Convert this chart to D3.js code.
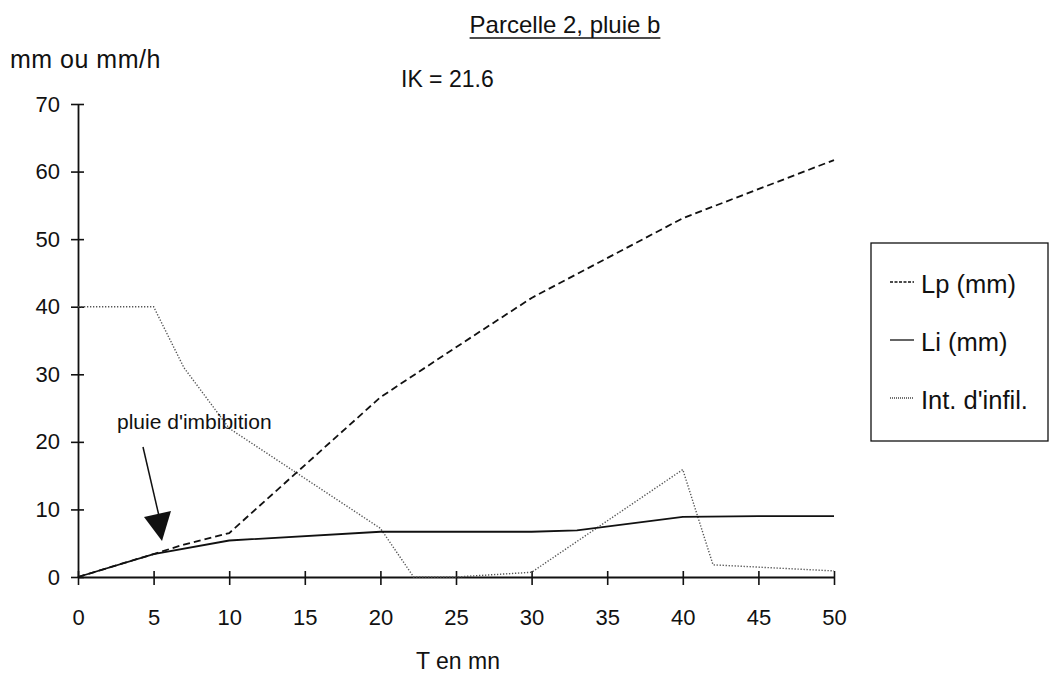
<!DOCTYPE html>
<html><head><meta charset="utf-8">
<script src="https://cdn.jsdelivr.net/npm/d3@7"></script>
<style>body{margin:0;background:#fff}svg{display:block}text{font-family:"Liberation Sans",Arial,sans-serif;fill:#111}</style>
</head><body><svg id="c" width="1049" height="679"></svg>
<script>
const xTicks=[0,5,10,15,20,25,30,35,40,45,50];
const yTicks=[0,10,20,30,40,50,60,70];
const lpT=[0,5,7,10,20,25,30,40,50];
const lpV=[0,3.4,4.8,6.5,26.6,34,41.3,53.1,61.7];
const liT=[0,5,10,20,30,33,40,45,50];
const liV=[0,3.4,5.4,6.7,6.7,6.9,8.9,9.0,9.0];
const inT=[0,5,7,10,20,22.2,25,30,40,42,50];
const inV=[40,40,31,22,7.2,0,0,0.7,15.9,1.8,0.9];
const seriesNames=["Lp (mm)","Li (mm)","Int. d'infil."];

const FONT="Liberation Sans, Arial, sans-serif";
const svg=d3.select("#c");
const x=d3.scaleLinear().domain([0,50]).range([78,834]);
const y=d3.scaleLinear().domain([0,70]).range([577,104]);

const ya=svg.append("g").attr("transform","translate(78,0)")
 .call(d3.axisLeft(y).tickValues(yTicks).tickSizeInner(7).tickSizeOuter(0).tickPadding(11));
ya.selectAll(".tick line").attr("x2",-7).attr("x1",6).attr("stroke","#111").attr("stroke-width",1.6);
ya.select(".domain").attr("stroke","#111").attr("stroke-width",1.8);
ya.selectAll("text").attr("font-size",22).style("font-family",FONT).attr("fill","#111");

const xa=svg.append("g").attr("transform","translate(0,577)")
 .call(d3.axisBottom(x).tickValues(xTicks).tickSizeInner(7).tickSizeOuter(0).tickPadding(26));
xa.selectAll(".tick line").attr("y1",-6).attr("y2",8).attr("stroke","#111").attr("stroke-width",1.6);
xa.select(".domain").attr("stroke","#111").attr("stroke-width",1.8);
xa.selectAll("text").attr("font-size",22).attr("dy","0").style("font-family",FONT).attr("fill","#111");
xa.selectAll("text").attr("y",48);

const line=d3.line().x(d=>x(d[0])).y(d=>y(d[1]));
const mk=(t,v)=>t.map((d,i)=>[d,v[i]]);
svg.append("path").attr("d",line(mk(inT,inV))).attr("fill","none").attr("stroke","#555").attr("stroke-width",1.4).attr("stroke-dasharray","1.3,1.7");
svg.append("path").attr("d",line(mk(liT,liV))).attr("fill","none").attr("stroke","#111").attr("stroke-width",1.8);
svg.append("path").attr("d",line(mk(lpT,lpV))).attr("fill","none").attr("stroke","#111").attr("stroke-width",1.8).attr("stroke-dasharray","7,4");

// titles
const title=svg.append("text").attr("x",565).attr("y",33).attr("text-anchor","middle").attr("font-size",24).text("Parcelle 2, pluie b");
const tw=title.node().getComputedTextLength();
svg.append("line").attr("x1",565-tw/2).attr("x2",565+tw/2).attr("y1",38).attr("y2",38).attr("stroke","#111").attr("stroke-width",1.4);
svg.append("text").attr("x",10).attr("y",68).attr("font-size",25).attr("letter-spacing",0.5).text("mm ou mm/h");
svg.append("text").attr("x",401).attr("y",87).attr("font-size",23).text("IK = 21.6");
svg.append("text").attr("x",458).attr("y",669).attr("text-anchor","middle").attr("font-size",23).text("T en mn");

// annotation
svg.append("text").attr("x",117).attr("y",429).attr("font-size",21).text("pluie d'imbibition");
svg.append("line").attr("x1",143).attr("y1",447).attr("x2",159).attr("y2",516).attr("stroke","#111").attr("stroke-width",1.5);
svg.append("path").attr("d","M144,517 L171,511 L162,541 Z").attr("fill","#111");

// legend
svg.append("rect").attr("x",871).attr("y",243).attr("width",177).attr("height",198).attr("fill","none").attr("stroke","#111").attr("stroke-width",1.3);
const leg=[{dash:"3,1.5",c:"#111"},{dash:null,c:"#111"},{dash:"1,1",c:"#444"}];
leg.forEach((l,i)=>{
  const yy=284+i*58;
  const ln=svg.append("line").attr("x1",890).attr("x2",914).attr("y1",yy-2).attr("y2",yy-2).attr("stroke",l.c).attr("stroke-width",1.3);
  if(l.dash) ln.attr("stroke-dasharray",l.dash);
  svg.append("text").attr("x",921).attr("y",yy+9).attr("font-size",25.5).text(seriesNames[i]);
});
</script></body></html>
